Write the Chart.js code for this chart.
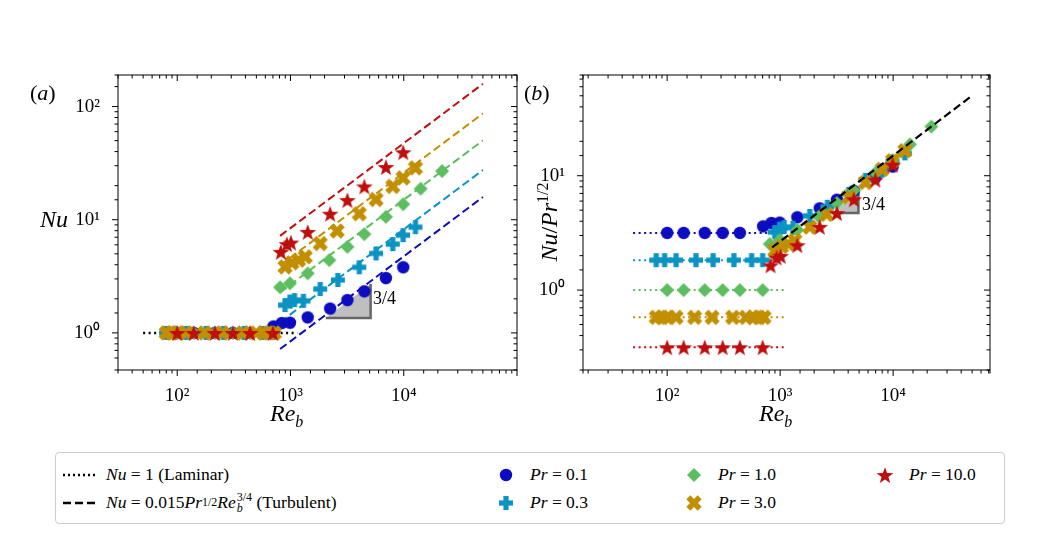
<!DOCTYPE html>
<html><head><meta charset="utf-8">
<script src="https://cdn.jsdelivr.net/npm/chart.js@4/dist/chart.umd.min.js"></script>
<style>
body{margin:0;width:1060px;height:545px;background:#fff;position:relative;font-family:"Liberation Serif","DejaVu Serif",serif;overflow:hidden}
.cv{position:absolute;top:0}
.t{position:absolute;white-space:nowrap;color:#000}
.lg{position:absolute;left:55px;top:452px;width:950px;height:72px;border:1px solid #ccc;border-radius:4px;box-sizing:border-box}
.li{position:absolute;font-size:17.5px;display:flex;align-items:center;white-space:nowrap}
.li img,.li svg{margin-right:10px}
.ss{display:inline-block;vertical-align:middle;line-height:0.9;font-size:12px;text-align:left;margin-left:1px}
</style></head><body>
<div class="cv" style="left:0;width:530px;height:450px"><canvas id="ca"></canvas></div>
<div class="cv" style="left:530px;width:530px;height:450px"><canvas id="cb"></canvas></div>
<div class="t" style="left:30px;top:80px;font-size:22px">(<i>a</i>)</div>
<div class="t" style="left:524px;top:80px;font-size:22px">(<i>b</i>)</div>
<div class="t" style="left:40px;top:206px;font-size:24px"><i>Nu</i></div>
<div class="t" style="left:548px;top:222px;font-size:24px;transform:translate(-50%,-50%) rotate(-90deg)"><i>Nu</i>/<i>Pr</i><sup style="font-size:16px">1/2</sup></div>
<div class="t" style="left:270px;top:400px;font-size:24px"><i>Re</i><sub style="font-size:16px"><i>b</i></sub></div>
<div class="t" style="left:759px;top:400px;font-size:24px"><i>Re</i><sub style="font-size:16px"><i>b</i></sub></div>
<div class="t" style="left:373px;top:288px;font-size:18px">3/4</div>
<div class="t" style="left:862px;top:194px;font-size:18px">3/4</div>
<div class="lg" id="lg"></div>
<script>
// ---------- data ----------
const prandtl = [0.1, 0.3, 1.0, 3.0, 10.0];
const colors = ['#0c0cc0', '#0a93c3', '#5dbe5f', '#c28f00', '#c00d0d'];
const markers = ['circle', 'plus', 'diamond', 'x', 'star'];
// laminar runs (Nu = 1)
const lamRe01 = [100, 140, 215, 310, 440];
const lamRe03 = [80, 95, 120, 180, 255, 390, 560, 700];
const lamRe1 = [100, 140, 215, 310, 440, 700];
const lamRe3 = [80, 90, 100, 120, 175, 250, 380, 500, 580, 650, 720];
const lamRe10 = [100, 140, 215, 310, 440, 700];
// turbulent-branch runs
const turbRe01 = [707, 837, 990, 1420, 2240, 3180, 4490, 6960, 9900];
const turbNu01 = [1.14, 1.22, 1.23, 1.37, 1.64, 1.95, 2.33, 3.05, 3.8];
const turbRe03 = [895, 990, 1085, 1300, 1830, 2620, 4050, 5700, 8000, 9870, 12700];
const turbNu03 = [1.76, 1.89, 1.95, 1.92, 2.44, 2.93, 3.8, 5.04, 6.09, 7.3, 8.6];
const turbRe1 = [810, 990, 1420, 2200, 3180, 4490, 6960, 9900, 14100, 21800];
const turbNu1 = [2.53, 2.74, 3.36, 4.39, 5.76, 7.45, 10.6, 13.7, 18.8, 26.9];
const turbRe3 = [895, 1030, 1180, 1350, 1830, 2580, 4050, 5700, 8000, 9870, 12700];
const turbNu3 = [3.83, 4.16, 4.39, 4.7, 6.16, 7.95, 11.3, 15.1, 19.7, 23.4, 28.7];
const turbRe10 = [822, 930, 1010, 1420, 2240, 3180, 4490, 6960, 9900];
const turbNu10 = [5.2, 6.09, 6.29, 7.8, 11.3, 14.9, 19.7, 29.2, 39.5];
// reference lines
const lamLineRe = [50, 1150];
const turbLineRe = [810, 50000];
const turbLineReB = [850, 50000];
const turbCoef = 0.015, turbExp = 0.75;
// slope triangles
const triReA = [2050, 5100, 5100], triNuA = [1.355, 1.355, 2.70];
const triReB = [2960, 4930, 4930], triNuB = [4.73, 4.73, 7.3];

const lamRe = [lamRe01, lamRe03, lamRe1, lamRe3, lamRe10];
const turbRe = [turbRe01, turbRe03, turbRe1, turbRe3, turbRe10];
const turbNu = [turbNu01, turbNu03, turbNu1, turbNu3, turbNu10];

// ---------- markers ----------
function mk(type, color){
  const S = 20, m = S/2, c = document.createElement('canvas'); c.width = c.height = S;
  const g = c.getContext('2d'); g.fillStyle = color; g.beginPath();
  if(type==='circle'){ g.arc(m,m,6.2,0,Math.PI*2); g.fill(); }
  else if(type==='plus'){ g.fillRect(m-7,m-2.6,14,5.2); g.fillRect(m-2.6,m-7,5.2,14); }
  else if(type==='x'){ g.translate(m,m); g.rotate(Math.PI/4); g.fillRect(-8,-2.8,16,5.6); g.fillRect(-2.8,-8,5.6,16); }
  else if(type==='diamond'){ g.moveTo(m,m-7); g.lineTo(m+7,m); g.lineTo(m,m+7); g.lineTo(m-7,m); g.closePath(); g.fill(); }
  else { for(let i=0;i<10;i++){ const r = i%2?3.6:8.8, a = -Math.PI/2 + i*Math.PI/5; g.lineTo(m+r*Math.cos(a), m+1+r*Math.sin(a)); } g.closePath(); g.fill(); }
  return c;
}
const mImgs = markers.map((t,i)=>mk(t, colors[i]));

// ---------- plugins ----------
const sup = {'0':'⁰','1':'¹','2':'²','3':'³','4':'⁴','5':'⁵','-':'⁻'};
function isPow(v){ const l=Math.log10(v); return Math.abs(l-Math.round(l))<1e-6; }
function tickLabel(v, maxLab){ if(!isPow(v) || v>maxLab) return ''; return '10'+String(Math.round(Math.log10(v))).split('').map(c=>sup[c]).join(''); }
const frame = {
  id:'frame',
  beforeDatasetsDraw(ch, a, opts){
    const tri = opts.tri; if(!tri) return;
    const xs = ch.scales.x, ys = ch.scales.y, g = ch.ctx;
    const p = tri[0].map((r,i)=>[xs.getPixelForValue(r), ys.getPixelForValue(tri[1][i])]);
    g.save(); g.fillStyle='#bfbfbf'; g.beginPath(); p.forEach((q,i)=>i?g.lineTo(q[0],q[1]):g.moveTo(q[0],q[1])); g.closePath(); g.fill();
    g.strokeStyle='#666'; g.lineWidth=2.5; g.beginPath(); g.moveTo(p[0][0],p[0][1]); g.lineTo(p[1][0],p[1][1]); g.lineTo(p[2][0],p[2][1]); g.stroke(); g.restore();
  },
  afterDraw(ch){
    const {left,right,top,bottom} = ch.chartArea, g = ch.ctx;
    g.save(); g.strokeStyle='#000'; g.lineWidth=1; g.strokeRect(left,top,right-left,bottom-top);
    const xs = ch.scales.x, ys = ch.scales.y;
    xs.ticks.forEach(t=>{ const x=xs.getPixelForValue(t.value); if(x<left-0.5||x>right+0.5) return; const L=isPow(t.value)?6:3.5;
      g.beginPath(); g.moveTo(x,bottom); g.lineTo(x,bottom+L); g.moveTo(x,top); g.lineTo(x,top+L); g.stroke(); });
    ys.ticks.forEach(t=>{ const y=ys.getPixelForValue(t.value); if(y<top-0.5||y>bottom+0.5) return; const L=isPow(t.value)?6:3.5;
      g.beginPath(); g.moveTo(left,y); g.lineTo(left-L,y); g.moveTo(right,y); g.lineTo(right-L,y); g.stroke(); });
    g.restore();
  }
};

function axes(xmin,xmax,ymin,ymax,yW,maxLab){
  const tk = () => ({autoSkip:false, maxRotation:0, color:'#000', font:{family:'Liberation Serif', size:19}, callback:v=>tickLabel(v,maxLab)});
  return {
    x:{type:'logarithmic', min:xmin, max:xmax, grid:{display:false}, border:{display:false},
       ticks:Object.assign({padding:7},tk()), afterFit:s=>{s.height=80;}},
    y:{type:'logarithmic', min:ymin, max:ymax, grid:{display:false}, border:{display:false},
       ticks:Object.assign({padding:10},tk()), afterFit:s=>{s.width=yW;}}
  };
}
function pts(xs, ys){ return xs.map((x,i)=>({x, y:ys[i]})); }
function lineDs(xs, ys, color, dash, w, order){ return {data:pts(xs,ys), showLine:true, borderColor:color, borderWidth:w, borderDash:dash, pointRadius:0, fill:false, order}; }
function ptDs(xs, ys, i){ return {data:pts(xs,ys), showLine:false, pointStyle:mImgs[i], pointRadius:7, order:5-i}; }

// ---------- panel (a) ----------
const dsA = [];
dsA.push(lineDs(lamLineRe, [1,1], '#000', [2,3.5], 2.5, 20));
prandtl.forEach((pr,i)=>{
  dsA.push(lineDs(turbLineRe, turbLineRe.map(r=>turbCoef*Math.sqrt(pr)*Math.pow(r,turbExp)), colors[i], [8,4], 2, 20));
});
prandtl.forEach((pr,i)=>{
  dsA.push(ptDs(lamRe[i], lamRe[i].map(()=>1), i));
  dsA.push(ptDs(turbRe[i], turbNu[i], i));
});
new Chart(document.getElementById('ca'), {type:'scatter', data:{datasets:dsA}, plugins:[frame],
  options:{responsive:true, maintainAspectRatio:false, animation:false, layout:{padding:{top:75,right:13,left:0,bottom:0}},
    plugins:{legend:{display:false}, tooltip:{enabled:false}, frame:{tri:[triReA,triNuA]}}, scales:axes(30,100000,0.47,190,118,2e4)}});

// ---------- panel (b) ----------
const dsB = [];
prandtl.forEach((pr,i)=>{
  const v = 1/Math.sqrt(pr);
  dsB.push(lineDs(lamLineRe, [v,v], colors[i], [2,3.5], 2, 20));
});
dsB.push(lineDs(turbLineReB, turbLineReB.map(r=>turbCoef*Math.pow(r,turbExp)), '#000', [8,4], 2.2, 0));
prandtl.forEach((pr,i)=>{
  const s = Math.sqrt(pr);
  dsB.push(ptDs(lamRe[i], lamRe[i].map(()=>1/s), i));
  dsB.push(ptDs(turbRe[i], turbNu[i].map(n=>n/s), i));
});
new Chart(document.getElementById('cb'), {type:'scatter', data:{datasets:dsB}, plugins:[frame],
  options:{responsive:true, maintainAspectRatio:false, animation:false, layout:{padding:{top:75,right:70,left:0,bottom:0}},
    plugins:{legend:{display:false}, tooltip:{enabled:false}, frame:{tri:[triReB,triNuB]}}, scales:axes(18,72000,0.2,76,53,2e4)}});

// ---------- legend ----------
const lg = document.getElementById('lg');
function add(x,y,iconHtml,text){ const d=document.createElement('div'); d.className='li'; d.style.left=x+'px'; d.style.top=y+'px'; d.innerHTML=iconHtml+text; lg.appendChild(d); }
const lineIcon = dash => `<svg width="34" height="10"><line x1="1" y1="5" x2="33" y2="5" stroke="#000" stroke-width="2.5" stroke-dasharray="${dash}"/></svg>`;
add(6,11,lineIcon('2,3'),'<i>Nu</i>&nbsp;=&nbsp;1 (Laminar)');
add(6,39,lineIcon('8,4'),'<i>Nu</i>&nbsp;=&nbsp;0.015<i>Pr</i><sup style="font-size:12px">1/2</sup><i>Re</i><span class="ss">3/4<br><i>b</i></span>&nbsp;(Turbulent)');
const pos = [[440,11],[440,39],[628,11],[628,39],[819,11]];
prandtl.forEach((pr,i)=>{
  add(pos[i][0],pos[i][1],`<img src="${mImgs[i].toDataURL()}" width="20" height="20" style="margin-right:14px">`,`<i>Pr</i>&nbsp;=&nbsp;${pr.toFixed(1)}`);
});
</script>
</body></html>
